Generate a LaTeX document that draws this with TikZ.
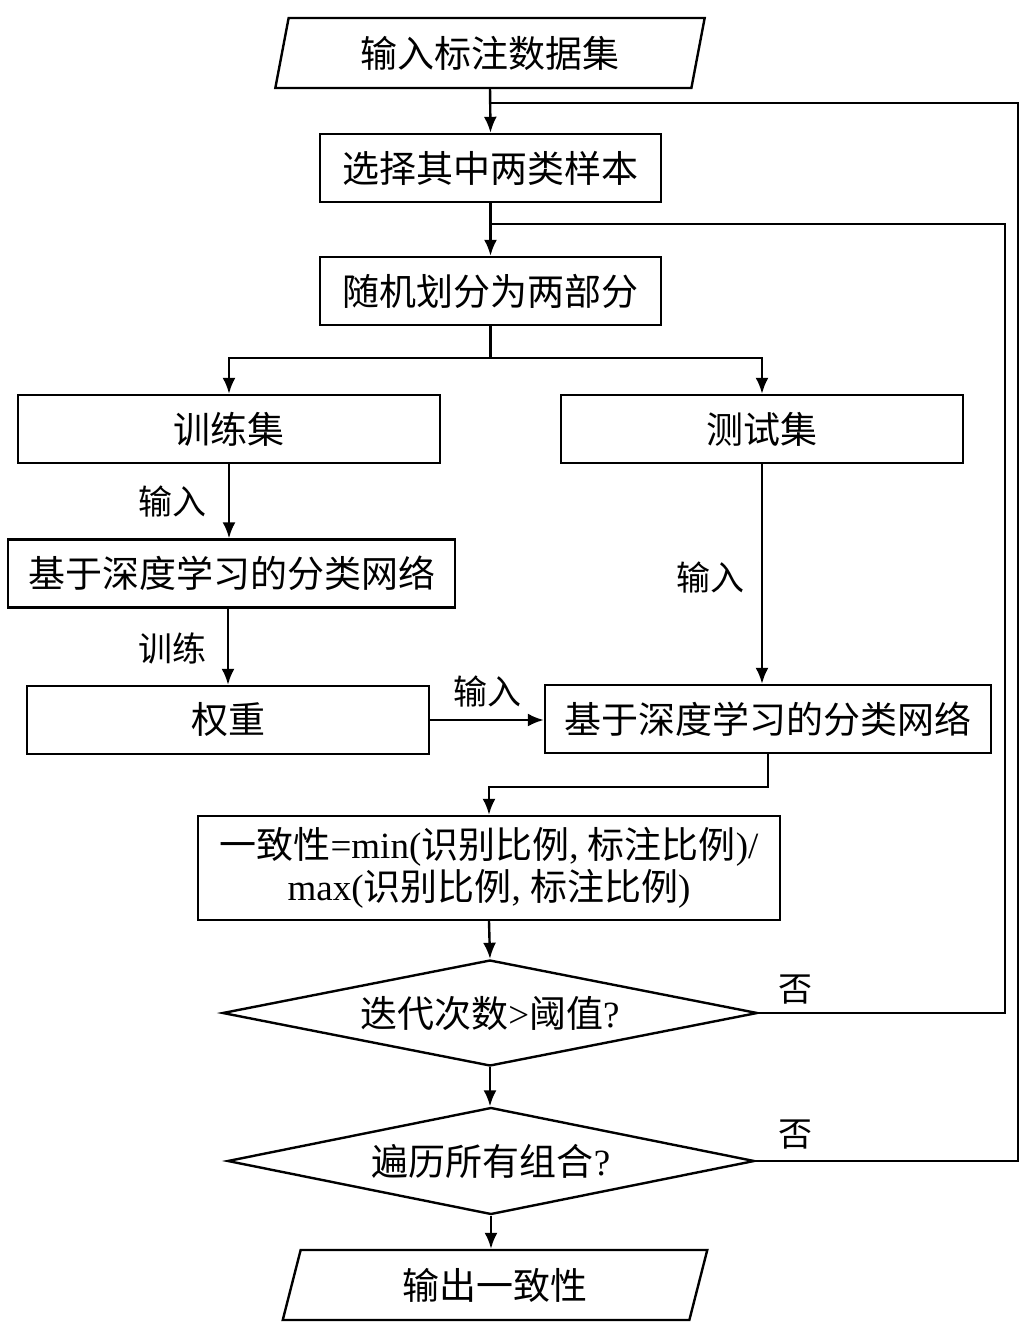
\documentclass[tikz,border=0pt]{standalone}
\usepackage{fontspec}
\setmainfont{Noto Sans CJK SC}
\newfontfamily\latin{Liberation Serif}
\usetikzlibrary{arrows.meta,shapes.geometric}

\begin{document}
\begin{tikzpicture}[x=1pt,y=-1pt,>={Latex[length=16pt,width=13pt]},line width=2.4pt]
  \tikzstyle{box}=[draw,minimum height=68pt,inner sep=0pt,font=\fontsize{37}{42}\selectfont]
  \tikzstyle{io}=[draw,trapezium,trapezium left angle=76,trapezium right angle=104,trapezium stretches=true,minimum height=70pt,inner sep=0pt,font=\fontsize{37}{42}\selectfont]
  \tikzstyle{dia}=[draw,diamond,shape aspect=5,inner sep=0pt,font=\fontsize{37}{42}\selectfont]
  \tikzstyle{lbl}=[inner sep=0pt,font=\fontsize{34}{40}\selectfont]
  \useasboundingbox (0,0) rectangle (1026,1337);
  \node[io,minimum width=430pt] (in) at (490,53) {输入标注数据集};
  \node[box,minimum width=341pt] (sel) at (490.5,168) {选择其中两类样本};
  \node[box,minimum width=341pt] (split) at (490.5,291) {随机划分为两部分};
  \node[box,minimum width=422pt] (train) at (229,429) {训练集};
  \node[box,minimum width=402pt] (test) at (762,429) {测试集};
  \node[box,minimum width=447pt] (netl) at (231.5,573.5) {基于深度学习的分类网络};
  \node[box,minimum width=402pt] (w) at (228,720) {权重};
  \node[box,minimum width=446pt] (netr) at (768,719) {基于深度学习的分类网络};
  \node[box,minimum width=582pt,minimum height=104pt,align=center] (cons) at (489,868)
    {一致性{\latin =min(}识别比例{\latin , }标注比例{\latin )/}\\{\latin max(}识别比例{\latin , }标注比例{\latin )}};
  \node[dia,minimum width=535pt,minimum height=106pt] (d1) at (490,1013) {迭代次数{\latin >}阈值{\latin ?}};
  \node[dia,minimum width=527pt,minimum height=107pt] (d2) at (491,1161) {遍历所有组合{\latin ?}};
  \node[io,minimum width=425pt] (out) at (495,1285) {输出一致性};
  \node[lbl] (l1) at (172,502) {输入};
  \node[lbl] (l2) at (172,648) {训练};
  \node[lbl] (l3) at (710,578) {输入};
  \node[lbl] (l4) at (487,692) {输入};
  \node[lbl] (no1) at (795,990) {否};
  \node[lbl] (no2) at (795,1135) {否};
  \coordinate (j1) at (490,103);
  \coordinate (j2) at (490,224);
  \draw[->] (in.south) -- (sel.north);
  \draw[->] (sel.south) -- (split.north);
  \draw[->] (split.south) -- ++(0,32) -| (train.north);
  \draw[->] (split.south) -- ++(0,32) -| (test.north);
  \draw[->] (train.south) -- (train.south |- netl.north);
  \draw[->] (netl.south -| w.north) -- (w.north);
  \draw[->] (test.south) -- (test.south |- netr.north);
  \draw[->] (w.east) -- (w.east -| netr.west);
  \draw[->] (netr.south) -- ++(0,33) -| (cons.north);
  \draw[->] (cons.south) -- (d1.north);
  \draw[->] (d1.south) -- (d1.south |- d2.north);
  \draw[->] (d2.south) -- (d2.south |- out.north);
  \draw (d1.east) -- ++(246,0) |- (j2);
  \draw (d2.east) -- ++(262,0) |- (j1);
\end{tikzpicture}
\end{document}
